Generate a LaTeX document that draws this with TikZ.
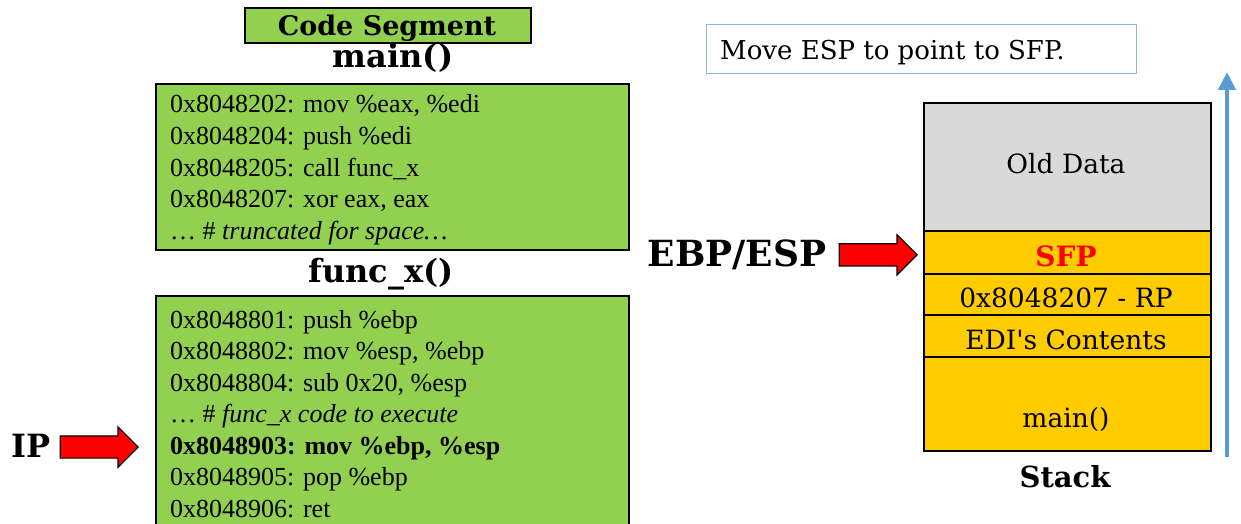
\documentclass[tikz,border=0pt]{standalone}
\usepackage{fontspec}
\setmainfont{Liberation Serif}
\newfontfamily\geo{DejaVu Serif}
\usetikzlibrary{shapes.arrows,arrows.meta}
\definecolor{codegreen}{HTML}{92D050}
\definecolor{stackyellow}{HTML}{FFCC00}
\definecolor{oldgray}{HTML}{D9D9D9}
\definecolor{notebord}{HTML}{8EB4E3}
\definecolor{growblue}{HTML}{5B9BD5}
\tikzset{
  codebox/.style={draw=black, line width=1.6pt, fill=codegreen, inner sep=0pt, anchor=north west},
  codeline/.style={anchor=base west, inner sep=0pt, font=\fontsize{26}{31}\selectfont},
  heading/.style={anchor=base, inner sep=0pt, font=\geo\bfseries\fontsize{32}{38}\selectfont},
  cell/.style={draw=black, line width=1.6pt, inner sep=0pt, anchor=north west, minimum width=287pt},
  celltext/.style={anchor=base, inner sep=0pt, font=\geo\fontsize{26.5}{31}\selectfont},
  redarrow/.style={single arrow, draw=black, line width=1.2pt, fill=red, inner xsep=0pt,
    inner ysep=10.5pt, single arrow head extend=9pt, minimum height=78pt, anchor=tip},
  pointer/.style={anchor=base, inner sep=0pt}
}
\begin{document}
\begin{tikzpicture}[x=1pt,y=-1pt]
\useasboundingbox (0,0) rectangle (1241,524);
\clip (0,0) rectangle (1241,524);

% code segment title
\node[codebox, minimum width=286pt, minimum height=35pt] (csbox) at (244,7) {};
\node[heading, font=\geo\bfseries\fontsize{27}{32}\selectfont] (cs) at (387,36) {Code Segment};

% main()
\node[heading] (mainhdr) at (393,68) {main()};
\node[codebox, minimum width=473pt, minimum height=166pt] (mainbox) at (155,83) {};
\node[codeline] (m1) at (170,113) {0x8048202: mov \%eax, \%edi};
\node[codeline] (m2) at (170,144.5) {0x8048204: push \%edi};
\node[codeline] (m3) at (170,176) {0x8048205: call func\_x};
\node[codeline] (m4) at (170,207.5) {0x8048207: xor eax, eax};
\node[codeline] (m5) at (170,239) {\dots\ \# \textit{truncated for space\dots}};

% func_x()
\node[heading] (funchdr) at (381,282) {func\_x()};
\node[codebox, minimum width=473pt, minimum height=240pt] (funcbox) at (155,295) {};
\node[codeline] (f1) at (170,328) {0x8048801: push \%ebp};
\node[codeline] (f2) at (170,359.5) {0x8048802: mov \%esp, \%ebp};
\node[codeline] (f3) at (170,391) {0x8048804: sub 0x20, \%esp};
\node[codeline] (f4) at (170,422.5) {\dots\ \# \textit{func\_x code to execute}};
\node[codeline, font=\bfseries\fontsize{26}{31}\selectfont] (f5) at (170,454) {0x8048903: mov \%ebp, \%esp};
\node[codeline] (f6) at (170,485.5) {0x8048905: pop \%ebp};
\node[codeline] (f7) at (170,517) {0x8048906: ret};

% instruction pointer
\node[pointer, font=\geo\bfseries\fontsize{32}{38}\selectfont] (ip) at (31,457) {IP};
\node[redarrow] (iparrow) at (139,447) {};

% note
\node[draw=notebord, line width=1.3pt, inner sep=0pt, anchor=north west,
      minimum width=430pt, minimum height=49pt] (note) at (706,24) {};
\node[anchor=base west, inner sep=0pt, font=\geo\fontsize{26}{31}\selectfont] (notetext) at (720,60) {Move ESP to point to SFP.};

% stack
\node[cell, fill=oldgray, minimum height=128pt] (old) at (923,102) {};
\node[cell, fill=stackyellow, minimum height=43pt] (sfp) at (923,230) {};
\node[cell, fill=stackyellow, minimum height=41pt] (rp) at (923,273) {};
\node[cell, fill=stackyellow, minimum height=42pt] (edi) at (923,314) {};
\node[cell, fill=stackyellow, minimum height=94pt] (mainframe) at (923,356) {};
\node[celltext] (oldtext) at (1066,173) {Old Data};
\node[celltext, font=\geo\bfseries\fontsize{28}{33}\selectfont, text=red] (sfptext) at (1066,266) {SFP};
\node[celltext] (rptext) at (1066,307) {0x8048207 - RP};
\node[celltext] (editext) at (1066,349) {EDI's Contents};
\node[celltext] (maintext) at (1066,427) {main()};
\node[heading, font=\geo\bfseries\fontsize{29}{34}\selectfont] (stacklabel) at (1065,487) {Stack};

% frame pointer / stack pointer
\node[pointer, font=\geo\bfseries\fontsize{36}{42}\selectfont] (ebp) at (737,266) {EBP/ESP};
\node[redarrow] (ebparrow) at ([xshift=-5pt,yshift=-2.5pt]sfp.west) {};

% growth direction
\coordinate (growbase) at (1227,457);
\coordinate (growtop) at (1227,72);
\draw[growblue, line width=4.5pt, -{Triangle[width=17pt,length=18pt]}] (growbase) -- (growtop);
\end{tikzpicture}
\end{document}
